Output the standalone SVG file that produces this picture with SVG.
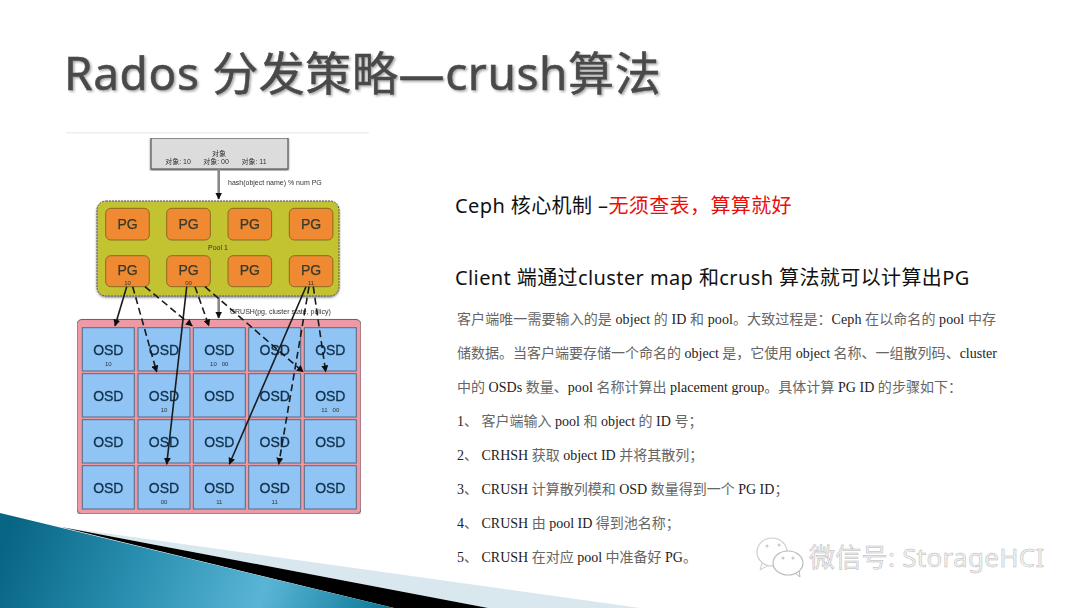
<svg xmlns="http://www.w3.org/2000/svg" width="1080" height="608" viewBox="0 0 1080 608">
<style>
.pg{fill:#f08a33;stroke:#8a6a20;stroke-width:1}
.pgt{font:14px "Liberation Sans",sans-serif;fill:#3a3a2a;stroke:#3a3a2a;stroke-width:.25;text-anchor:middle}
.osd{fill:#8fc4f5;stroke:#556a80;stroke-width:1}
.osdt{font:14px "Liberation Sans",sans-serif;fill:#12304a;stroke:#12304a;stroke-width:.3;text-anchor:middle}
.sm{font:6px "Liberation Sans",sans-serif;fill:#333;text-anchor:middle}
.ob{font:7px "Liberation Sans","Noto Sans CJK SC",sans-serif;fill:#333;text-anchor:middle}
.lbl{font:7px "Liberation Sans",sans-serif;fill:#333}
.s{stroke:#1a1a1a;stroke-width:1.6;fill:none;marker-end:url(#a)}
.d{stroke:#1a1a1a;stroke-width:1.6;fill:none;stroke-dasharray:7 4;marker-end:url(#a)}
.g{stroke:#888;stroke-width:2.6;fill:none;marker-end:url(#a)}
.h{font:20px "Noto Sans","Noto Sans CJK SC",sans-serif;fill:#111;letter-spacing:.4px}
.b{font:14px "Liberation Serif","Noto Sans CJK SC",serif;fill:#666}
.l{fill:#222}
</style>
<defs>
<marker id="a" markerUnits="userSpaceOnUse" markerWidth="7" markerHeight="7" refX="6.5" refY="3.5" orient="auto"><path d="M0 0L7 3.5L0 7z" fill="#111"/></marker>
<linearGradient id="bl" gradientUnits="userSpaceOnUse" x1="20" y1="500" x2="380" y2="630"><stop offset="0" stop-color="#086584"/><stop offset=".35" stop-color="#2a8fb0"/><stop offset=".68" stop-color="#5ab5d5"/><stop offset="1" stop-color="#0d7898"/></linearGradient>
<filter id="sh" x="-5%" y="-20%" width="110%" height="140%"><feDropShadow dx="1.5" dy="1.5" stdDeviation="1" flood-color="#000" flood-opacity=".35"/></filter>
<filter id="bs" x="-5%" y="-5%" width="110%" height="110%"><feDropShadow dx="0" dy="1.2" stdDeviation="1" flood-color="#000" flood-opacity=".5"/></filter>
<filter id="soft" x="0" y="0" width="100%" height="100%"><feGaussianBlur stdDeviation=".35"/></filter>
</defs>
<rect width="1080" height="608" fill="#fff"/>
<g id="swoosh">
<polygon points="61,527 640,608 488,608" fill="#d9e8ee"/>
<polygon points="61,527 488,608 394,608" fill="#000"/>
<polygon points="0,513 394,608 0,608" fill="url(#bl)"/>
</g>
<text x="64" y="90" font-family="'Noto Sans','Noto Sans CJK SC',sans-serif" font-size="46" letter-spacing=".6" fill="#4a4a4a" stroke="#4a4a4a" stroke-width=".5" filter="url(#sh)">Rados 分发策略—crush算法</text>
<rect x="66" y="132" width="303" height="1.5" fill="#eee"/>
<g id="diagram" filter="url(#soft)">
<g id="object">
<rect x="151" y="138" width="137" height="31" fill="#dcdcdc" stroke="#555" stroke-width="1.2" filter="url(#bs)"/>
<text class="ob" x="219" y="156">对象</text>
<text class="ob" x="178" y="164">对象: 10</text>
<text class="ob" x="216" y="164">对象: 00</text>
<text class="ob" x="254" y="164">对象: 11</text>
</g>
<text class="lbl" x="228" y="185">hash(object name) % num PG</text>
<g id="pool">
<rect x="97" y="201" width="242" height="95" rx="9" fill="#c3c332" stroke="#555" stroke-width="1" stroke-dasharray="2 1" filter="url(#bs)"/>
<text class="ob" x="218" y="250">Pool  1</text>
</g>
<g id="pgs">
<g id="pg1"><rect class="pg" x="105.7" y="208.3" width="43.6" height="31.7" rx="5"/><text class="pgt" x="127.5" y="229">PG</text></g>
<g id="pg2"><rect class="pg" x="166.7" y="208.3" width="43.6" height="31.7" rx="5"/><text class="pgt" x="188.5" y="229">PG</text></g>
<g id="pg3"><rect class="pg" x="228" y="208.3" width="43.6" height="31.7" rx="5"/><text class="pgt" x="249.8" y="229">PG</text></g>
<g id="pg4"><rect class="pg" x="289.3" y="208.3" width="43.6" height="31.7" rx="5"/><text class="pgt" x="311" y="229">PG</text></g>
<g id="pg5"><rect class="pg" x="105.7" y="255.7" width="43.6" height="31" rx="5"/><text class="pgt" x="127.5" y="275">PG</text><text class="sm" x="127.5" y="285">10</text></g>
<g id="pg6"><rect class="pg" x="166.7" y="255.7" width="43.6" height="31" rx="5"/><text class="pgt" x="188.5" y="275">PG</text><text class="sm" x="188.5" y="285">00</text></g>
<g id="pg7"><rect class="pg" x="228" y="255.7" width="43.6" height="31" rx="5"/><text class="pgt" x="249.8" y="275">PG</text></g>
<g id="pg8"><rect class="pg" x="289.3" y="255.7" width="43.6" height="31" rx="5"/><text class="pgt" x="311" y="275">PG</text><text class="sm" x="311" y="285">11</text></g>
</g>
<text class="lbl" x="230" y="314">CRUSH(pg, cluster state, policy)</text>
<g id="cluster">
<rect x="77" y="319.5" width="284" height="194.5" rx="5" fill="#ee9aa6" stroke="#666" stroke-width="1" filter="url(#bs)"/>
</g>
<g id="osds">
<g id="o11"><rect class="osd" x="82.3" y="327.7" width="52" height="43.3"/><text class="osdt" x="108.3" y="354.5">OSD</text><text class="sm" x="108.3" y="366">10</text></g>
<g id="o12"><rect class="osd" x="138" y="327.7" width="52" height="43.3"/><text class="osdt" x="164" y="354.5">OSD</text></g>
<g id="o13"><rect class="osd" x="193.3" y="327.7" width="52" height="43.3"/><text class="osdt" x="219.3" y="354.5">OSD</text><text class="sm" x="219.3" y="366" xml:space="preserve">10   00</text></g>
<g id="o14"><rect class="osd" x="248.7" y="327.7" width="52" height="43.3"/><text class="osdt" x="274.7" y="354.5">OSD</text></g>
<g id="o15"><rect class="osd" x="304.3" y="327.7" width="52" height="43.3"/><text class="osdt" x="330.3" y="354.5">OSD</text></g>
<g id="o21"><rect class="osd" x="82.3" y="373.7" width="52" height="43.3"/><text class="osdt" x="108.3" y="400.5">OSD</text></g>
<g id="o22"><rect class="osd" x="138" y="373.7" width="52" height="43.3"/><text class="osdt" x="164" y="400.5">OSD</text><text class="sm" x="164" y="412">10</text></g>
<g id="o23"><rect class="osd" x="193.3" y="373.7" width="52" height="43.3"/><text class="osdt" x="219.3" y="400.5">OSD</text></g>
<g id="o24"><rect class="osd" x="248.7" y="373.7" width="52" height="43.3"/><text class="osdt" x="274.7" y="400.5">OSD</text></g>
<g id="o25"><rect class="osd" x="304.3" y="373.7" width="52" height="43.3"/><text class="osdt" x="330.3" y="400.5">OSD</text><text class="sm" x="330.3" y="412" xml:space="preserve">11   00</text></g>
<g id="o31"><rect class="osd" x="82.3" y="419.7" width="52" height="43.3"/><text class="osdt" x="108.3" y="446.5">OSD</text></g>
<g id="o32"><rect class="osd" x="138" y="419.7" width="52" height="43.3"/><text class="osdt" x="164" y="446.5">OSD</text></g>
<g id="o33"><rect class="osd" x="193.3" y="419.7" width="52" height="43.3"/><text class="osdt" x="219.3" y="446.5">OSD</text></g>
<g id="o34"><rect class="osd" x="248.7" y="419.7" width="52" height="43.3"/><text class="osdt" x="274.7" y="446.5">OSD</text></g>
<g id="o35"><rect class="osd" x="304.3" y="419.7" width="52" height="43.3"/><text class="osdt" x="330.3" y="446.5">OSD</text></g>
<g id="o41"><rect class="osd" x="82.3" y="465.7" width="52" height="43.3"/><text class="osdt" x="108.3" y="492.5">OSD</text></g>
<g id="o42"><rect class="osd" x="138" y="465.7" width="52" height="43.3"/><text class="osdt" x="164" y="492.5">OSD</text><text class="sm" x="164" y="504">00</text></g>
<g id="o43"><rect class="osd" x="193.3" y="465.7" width="52" height="43.3"/><text class="osdt" x="219.3" y="492.5">OSD</text><text class="sm" x="219.3" y="504">11</text></g>
<g id="o44"><rect class="osd" x="248.7" y="465.7" width="52" height="43.3"/><text class="osdt" x="274.7" y="492.5">OSD</text><text class="sm" x="274.7" y="504">11</text></g>
<g id="o45"><rect class="osd" x="304.3" y="465.7" width="52" height="43.3"/><text class="osdt" x="330.3" y="492.5">OSD</text></g>
</g>
<g id="connectors">
<line class="g" x1="218.7" y1="169" x2="218.7" y2="199"/>
<line class="g" x1="218.7" y1="296" x2="218.7" y2="318"/>
<line class="s" x1="126.7" y1="286.7" x2="115" y2="326"/>
<line class="d" x1="132.7" y1="286.7" x2="156.7" y2="372"/>
<line class="d" x1="145" y1="286.7" x2="192.3" y2="326"/>
<line class="s" x1="186.7" y1="286.7" x2="166.7" y2="464.3"/>
<line class="d" x1="195" y1="286.7" x2="209" y2="326"/>
<line class="d" x1="205" y1="286.7" x2="303.3" y2="372"/>
<line class="s" x1="306" y1="286.7" x2="229.3" y2="464.3"/>
<line class="d" x1="309" y1="286.7" x2="278.7" y2="464.3"/>
<line class="d" x1="313.3" y1="286.7" x2="325.7" y2="372"/>
</g>
</g>
<g id="text">
<text class="h" x="455" y="213">Ceph 核心机制 –<tspan fill="#e8100c">无须查表，算算就好</tspan></text>
<text class="h" x="455" y="285">Client 端通过cluster map 和crush 算法就可以计算出PG</text>
<text class="b" x="457" y="324" textLength="539" lengthAdjust="spacing">客户端唯一需要输入的是 <tspan class="l">object</tspan> 的 <tspan class="l">ID</tspan> 和 <tspan class="l">pool</tspan>。大致过程是：<tspan class="l">Ceph</tspan> 在以命名的 <tspan class="l">pool</tspan> 中存</text>
<text class="b" x="457" y="358" textLength="540" lengthAdjust="spacing">储数据。当客户端要存储一个命名的 <tspan class="l">object</tspan> 是，它使用 <tspan class="l">object</tspan> 名称、一组散列码、<tspan class="l">cluster</tspan></text>
<text class="b" x="457" y="392" textLength="505" lengthAdjust="spacing">中的 <tspan class="l">OSDs</tspan> 数量、<tspan class="l">pool</tspan> 名称计算出 <tspan class="l">placement group</tspan>。具体计算 <tspan class="l">PG ID</tspan> 的步骤如下：</text>
<text class="b" x="457" y="426"><tspan class="l">1</tspan>、 客户端输入 <tspan class="l">pool</tspan> 和 <tspan class="l">object</tspan> 的 <tspan class="l">ID</tspan> 号；</text>
<text class="b" x="457" y="460"><tspan class="l">2</tspan>、 <tspan class="l">CRHSH</tspan> 获取 <tspan class="l">object ID</tspan> 并将其散列；</text>
<text class="b" x="457" y="494"><tspan class="l">3</tspan>、 <tspan class="l">CRUSH</tspan> 计算散列模和 <tspan class="l">OSD</tspan> 数量得到一个 <tspan class="l">PG ID</tspan>；</text>
<text class="b" x="457" y="528"><tspan class="l">4</tspan>、 <tspan class="l">CRUSH</tspan> 由 <tspan class="l">pool ID</tspan> 得到池名称；</text>
<text class="b" x="457" y="562"><tspan class="l">5</tspan>、 <tspan class="l">CRUSH</tspan> 在对应 <tspan class="l">pool</tspan> 中准备好 <tspan class="l">PG</tspan>。</text>
</g>
<g id="watermark">
<path d="M762 563L760 570L768 565.500Z" fill="#fff" stroke="#ccc"/>
<ellipse cx="772" cy="552" rx="15" ry="14" fill="#fff" stroke="#ccc" stroke-width="1.2"/>
<path d="M794 572L800 577L799 570Z" fill="#fff" stroke="#bbb"/>
<ellipse cx="788" cy="563" rx="15" ry="12" fill="#fff" stroke="#bbb" stroke-width="1.2"/>
<g fill="#ccc"><circle cx="767" cy="546" r="1.5"/><circle cx="779" cy="545" r="1.5"/><circle cx="783" cy="558" r="1.5"/><circle cx="793" cy="558" r="1.5"/></g>
<text x="809" y="567" font-family="'Noto Sans','Noto Sans CJK SC',sans-serif" font-size="26" letter-spacing=".3" fill="#f2f2f2" stroke="#b8b8b8" stroke-width=".5">微信号: StorageHCI</text>
</g>
</svg>
